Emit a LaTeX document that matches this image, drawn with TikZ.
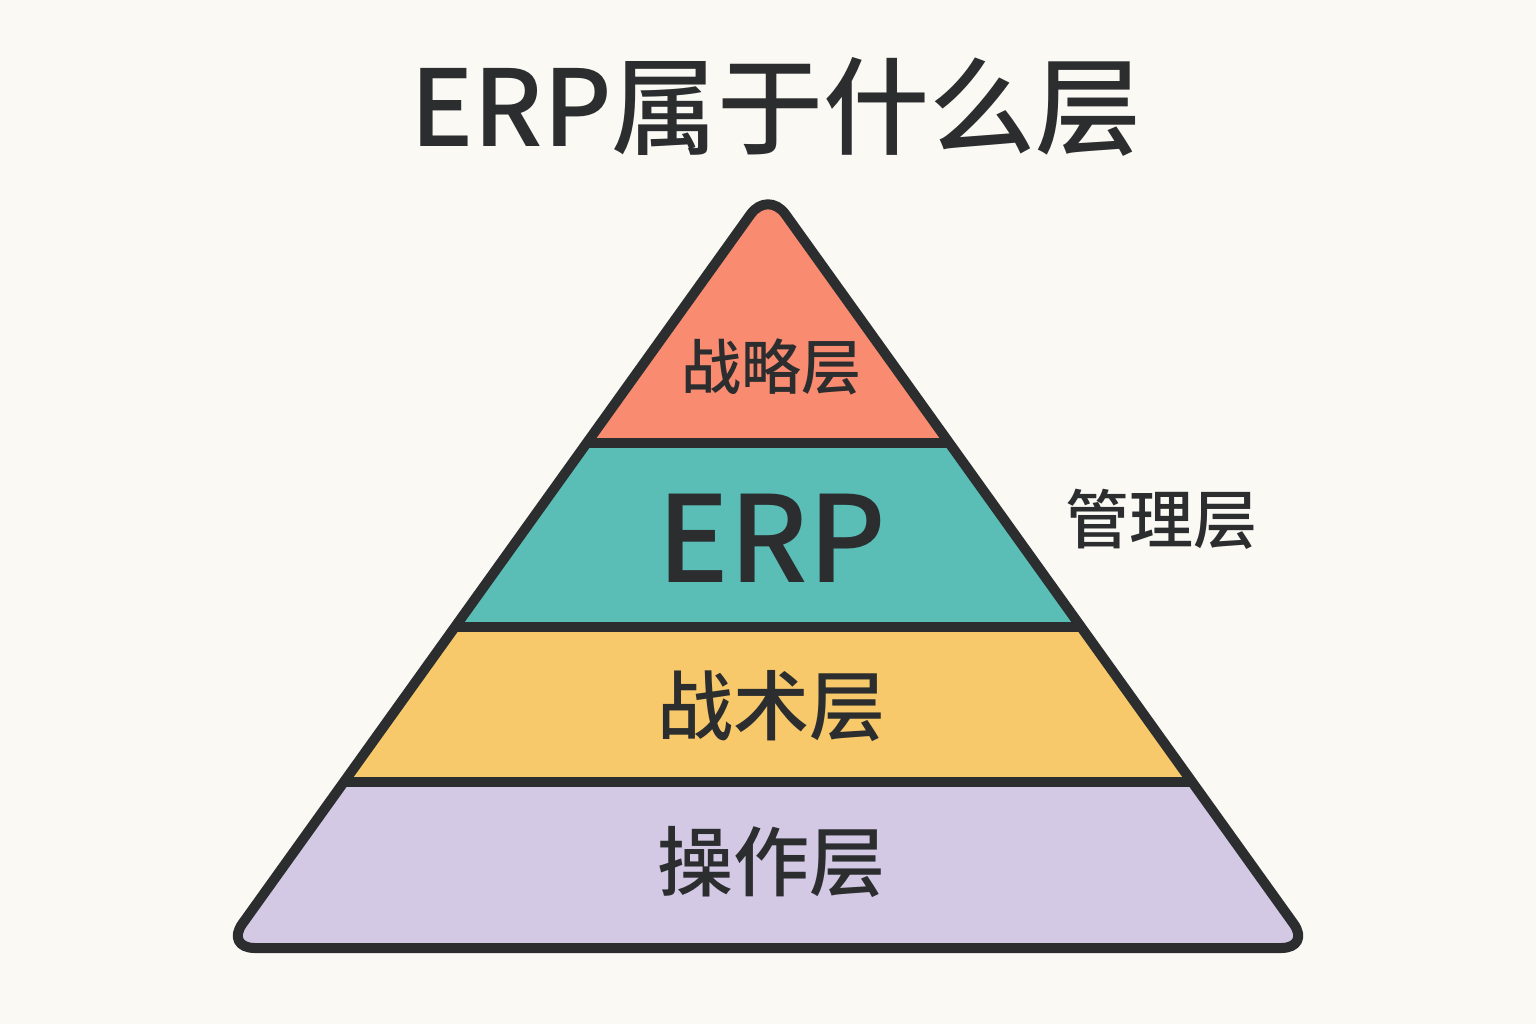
\documentclass[tikz,border=0pt]{standalone}
\usepackage{fontspec}
\newfontfamily\cjk{Noto Sans CJK SC Medium}
\definecolor{bg}{HTML}{FAF9F4}
\definecolor{ink}{HTML}{2B2D2F}
\definecolor{cTop}{HTML}{F98B70}
\definecolor{cErp}{HTML}{5BBEB6}
\definecolor{cTac}{HTML}{F8C96B}
\definecolor{cOps}{HTML}{D3C9E5}
\tikzset{
  lbl/.style={text=ink, inner sep=0pt, anchor=center},
  edge/.style={draw=ink, line width=5pt},
}
\begin{document}
\begin{tikzpicture}[x=0.5pt,y=-0.5pt]
\fill[bg] (0,0) rectangle (1536,1024);
\useasboundingbox (0,0) rectangle (1536,1024);
\coordinate (A) at (768,190);
\coordinate (L) at (225,948);
\coordinate (R) at (1311,948);
\begin{scope}
  \clip[rounded corners=15pt] (A) -- (L) -- (R) -- cycle;
  \fill[cTop] (150,150) rectangle (1400,443);
  \fill[cErp] (150,443) rectangle (1400,627);
  \fill[cTac] (150,627) rectangle (1400,782);
  \fill[cOps] (150,782) rectangle (1400,960);
  \draw[edge] (150,443) -- (1400,443);
  \draw[edge] (150,627) -- (1400,627);
  \draw[edge] (150,782) -- (1400,782);
\end{scope}
\draw[edge, rounded corners=15pt, line join=round] (A) -- (L) -- (R) -- cycle;
\node[lbl, font=\cjk\fontsize{53}{60}\selectfont] (title) at (776,107) {ERP属于什么层};
\node[lbl, font=\cjk\fontsize{30}{34}\selectfont] (strat) at (771,367) {战略层};
\node[lbl, font=\cjk\fontsize{60}{70}\selectfont] (erp) at (772,538) {ERP};
\node[lbl, font=\cjk\fontsize{38}{44}\selectfont] (tac) at (771,706) {战术层};
\node[lbl, font=\cjk\fontsize{38}{44}\selectfont] (ops) at (771,862) {操作层};
\node[lbl, font=\cjk\fontsize{32}{38}\selectfont] (mgmt) at (1161,519) {管理层};
\end{tikzpicture}
\end{document}
